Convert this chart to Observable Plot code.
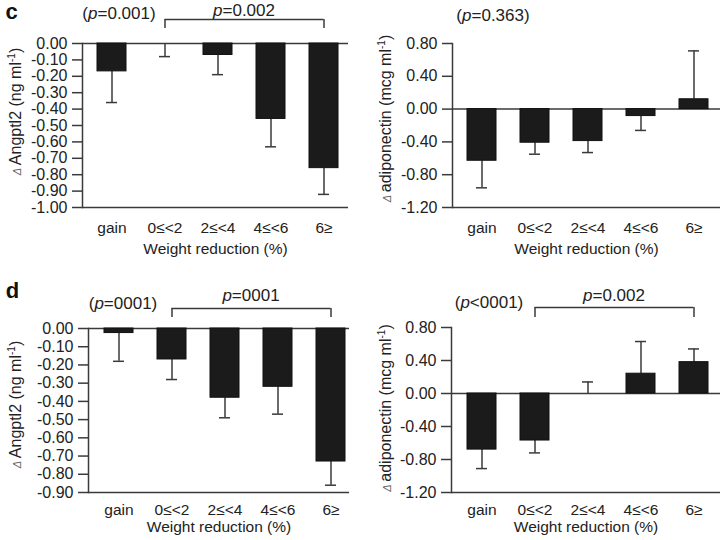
<!DOCTYPE html>
<html>
<head>
<meta charset="utf-8">
<script src="https://cdn.jsdelivr.net/npm/d3@7"></script>
<script src="https://cdn.jsdelivr.net/npm/@observablehq/plot@0.6"></script>
<style>
  html, body { margin: 0; padding: 0; background: #fff; }
  #wrap { position: relative; width: 720px; height: 540px; overflow: hidden; background: #fff; }
  .panel { position: absolute; }
</style>
</head>
<body>
<div id="wrap"></div>
<script>
// ---------------- data ----------------
const categories = ["gain", "0≤<2", "2≤<4", "4≤<6", "6≥"];

// panel c
const angptl2C     = [-0.17, 0.00, -0.07, -0.46, -0.76];
const angptl2CErr  = [-0.36, -0.08, -0.19, -0.63, -0.92];
const adipoC       = [-0.63, -0.41, -0.39, -0.085, 0.12];
const adipoCErr    = [-0.96, -0.55, -0.53, -0.26, 0.71];
// panel d
const angptl2D     = [-0.025, -0.17, -0.38, -0.32, -0.73];
const angptl2DErr  = [-0.18, -0.28, -0.49, -0.47, -0.86];
const adipoD       = [-0.68, -0.57, 0.00, 0.24, 0.38];
const adipoDErr    = [-0.91, -0.72, 0.14, 0.63, 0.54];

// tick labels
const angptl2CTicks = [0, -0.1, -0.2, -0.3, -0.4, -0.5, -0.6, -0.7, -0.8, -0.9, -1.0];
const angptl2DTicks = [0, -0.1, -0.2, -0.3, -0.4, -0.5, -0.6, -0.7, -0.8, -0.9];
const adipoTicks    = [0.8, 0.4, 0, -0.4, -0.8, -1.2];

// texts
const xLabel = "Weight reduction (%)";
const yLabelAng = "Δ Angptl2 (ng ml-1)";
const yLabelAdi = "Δ adiponectin (mcg ml-1)";
const pOverall = ["(p=0.001)", "(p=0.363)", "(p=0001)", "(p<0001)"];
const pBracket = ["p=0.002", null, "p=0001", "p=0.002"];
const panelLetters = ["c", null, "d", null];

// ---------------- drawing ----------------
const FONT = '"Liberation Sans", Arial, Helvetica, sans-serif';
const LINE = "#3a3a3a";
const BAR = "#1b1b1b";
const NS = "http://www.w3.org/2000/svg";

function tspan(text, attrs = {}) {
  const t = document.createElementNS(NS, "tspan");
  t.textContent = text;
  for (const k in attrs) t.setAttribute(k, attrs[k]);
  return t;
}

function styleTexts(svg) {
  svg.querySelectorAll("text").forEach(t => {
    const s = t.textContent;
    const m = s.match(/^(\(?)p([=<].*)$/);
    if (m) {
      t.textContent = "";
      t.append(tspan(m[1]), tspan("p", {"font-style": "italic"}), tspan(m[2]));
      return;
    }
    const y = s.match(/^Δ (.*)-1\)$/);
    if (y) {
      t.textContent = "";
      t.append(
        tspan("Δ ", {"font-style": "italic", "font-size": "11", "fill": "#666"}),
        tspan(y[1]),
        tspan("-1", {"font-size": "10", "dy": "-6"}),
        tspan(")", {"dy": "6"})
      );
    }
  });
}

function panel(cfg) {
  const rows = categories.map((c, i) => ({cat: c, v: cfg.values[i], e: cfg.errs[i]}));
  const frameH = 270 - cfg.mTop - cfg.mBottom;
  const frameW = 360 - cfg.mLeft - cfg.mRight;
  const bw = 0.55 * (frameW - cfg.insetL - cfg.insetR) / categories.length;
  const top = cfg.domain[1];
  const marks = [
    Plot.ruleY([0], {stroke: LINE, strokeWidth: 1.5}),
    Plot.ruleY([cfg.domain[0]], {stroke: LINE, strokeWidth: 1.5}),
    Plot.frame({anchor: "left", stroke: LINE, strokeWidth: 1.5}),
    Plot.ruleX(rows, {x: "cat", y1: "v", y2: "e", stroke: LINE, strokeWidth: 1.5}),
    Plot.tickY(rows, {x: "cat", y: "e", stroke: LINE, strokeWidth: 1.5, insetLeft: 9, insetRight: 9}),
    Plot.barY(rows, {x: "cat", y: "v", fill: BAR, stroke: "#111", strokeWidth: 1}),
    Plot.axisY({ticks: cfg.ticks, tickFormat: d => d.toFixed(2), tickSize: 10, tickPadding: 5, label: null, fontSize: 16, stroke: LINE, strokeWidth: 1.5}),
    Plot.axisX({tickSize: 0, tickPadding: cfg.tickPad, label: null, fontSize: 15.5}),
    Plot.text([xLabel], {frameAnchor: "bottom", lineAnchor: "middle", textAnchor: "middle", dy: cfg.xLabelDy, fontSize: 15.5}),
    Plot.text([cfg.yLabel], {frameAnchor: "left", rotate: -90, textAnchor: "middle", lineAnchor: "middle",
      dx: cfg.yLabelDx, dy: cfg.yLabelDy, fontSize: 16, letterSpacing: cfg.yLabelLS}),
    Plot.text([{cat: categories[0], t: cfg.overall}], {x: "cat", text: "t", frameAnchor: "top", lineAnchor: "middle",
      dx: cfg.overallDx, dy: cfg.overallDy, fontSize: 17})
  ];
  if (cfg.bracket) {
    const br = [{from: categories[1], to: categories[4], mid: categories[2], t: cfg.bracket}];
    marks.push(
      Plot.ruleY(br, {x1: "from", x2: "to", y: () => top, dy: cfg.brH, insetLeft: bw / 2, insetRight: bw / 2, stroke: LINE, strokeWidth: 1.5}),
      Plot.ruleX([categories[1], categories[4]], {x: d => d, insetTop: cfg.brH, insetBottom: frameH - cfg.brEnd, stroke: LINE, strokeWidth: 1.5}),
      Plot.text(br, {x: "mid", text: "t", frameAnchor: "top", lineAnchor: "middle", dx: cfg.brTextDx, dy: cfg.brTextDy, fontSize: 17})
    );
  }
  if (cfg.letter) {
    marks.push(Plot.text([cfg.letter], {frameAnchor: "top-left", textAnchor: "middle", lineAnchor: "middle",
      dx: cfg.letterDx, dy: cfg.letterDy, fontSize: 22, fontWeight: "bold", fill: "#111"}));
  }
  const svg = Plot.plot({
    width: 360, height: 270,
    marginTop: cfg.mTop, marginBottom: cfg.mBottom, marginLeft: cfg.mLeft, marginRight: cfg.mRight,
    style: {fontFamily: FONT, fontSize: "15px", color: "#222", background: "transparent", overflow: "visible"},
    x: {domain: categories, paddingInner: 0.45, paddingOuter: 0.225, insetLeft: cfg.insetL, insetRight: cfg.insetR},
    y: {domain: cfg.domain},
    marks
  });
  styleTexts(svg);
  svg.classList.add("panel");
  svg.style.left = cfg.left + "px";
  svg.style.top = cfg.topPx + "px";
  document.getElementById("wrap").appendChild(svg);
}

// c - left
panel({left: 0, topPx: 0, values: angptl2C, errs: angptl2CErr, ticks: angptl2CTicks, domain: [-1, 0],
  yLabel: yLabelAng, mTop: 43, mBottom: 63, mLeft: 82, mRight: 12, insetL: 3, insetR: -3,
  tickPad: 14, xLabelDy: 42, yLabelDx: -67, yLabelDy: -14, yLabelLS: 1.4,
  overall: pOverall[0], overallDx: 7, overallDy: -30,
  bracket: pBracket[0], brH: -24, brEnd: -15, brTextDx: 26, brTextDy: -33,
  letter: panelLetters[0], letterDx: -71, letterDy: -32});

// c - right
panel({left: 360, topPx: 0, values: adipoC, errs: adipoCErr, ticks: adipoTicks, domain: [-1.2, 0.8],
  yLabel: yLabelAdi, mTop: 43, mBottom: 63, mLeft: 92, mRight: 0, insetL: 2.5, insetR: 0,
  tickPad: 14, xLabelDy: 42, yLabelDx: -67, yLabelDy: -7, yLabelLS: 0,
  overall: pOverall[1], overallDx: 11, overallDy: -28,
  bracket: null});

// d - left
panel({left: 0, topPx: 270, values: angptl2D, errs: angptl2DErr, ticks: angptl2DTicks, domain: [-0.9, 0],
  yLabel: yLabelAng, mTop: 58, mBottom: 48, mLeft: 88, mRight: 11, insetL: 4, insetR: -8,
  tickPad: 11, xLabelDy: 35, yLabelDx: -73, yLabelDy: -6, yLabelLS: 0.5,
  overall: pOverall[2], overallDx: 4, overallDy: -25,
  bracket: pBracket[2], brH: -20, brEnd: -11, brTextDx: 26, brTextDy: -33,
  letter: panelLetters[2], letterDx: -76, letterDy: -38});

// d - right
panel({left: 360, topPx: 270, values: adipoD, errs: adipoDErr, ticks: adipoTicks, domain: [-1.2, 0.8],
  yLabel: yLabelAdi, mTop: 57, mBottom: 48, mLeft: 91, mRight: 0, insetL: 3.5, insetR: 0,
  tickPad: 11, xLabelDy: 35, yLabelDx: -66, yLabelDy: -2, yLabelLS: 0,
  overall: pOverall[3], overallDx: 7, overallDy: -25,
  bracket: pBracket[3], brH: -20, brEnd: -10, brTextDx: 26, brTextDy: -32});
</script>
</body>
</html>
